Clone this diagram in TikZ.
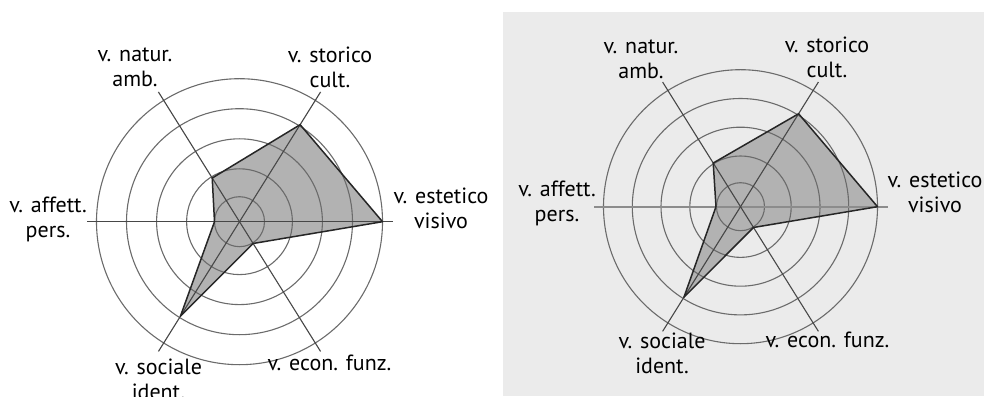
\documentclass[tikz,border=0pt]{standalone}
\usepackage{fontspec}
\setmainfont{PT Sans}

\begin{document}
\begin{tikzpicture}[x=0.5pt, y=0.5pt,
    ring/.style = {draw=black!58, line width=0.55pt},
    axis/.style = {draw=black!72, line width=0.55pt},
    areafill/.style = {fill=black!30},
    arealine/.style = {draw=black!85, line width=0.75pt, line join=round},
    lbl/.style = {align=center, inner sep=0pt, font=\fontsize{11}{12.5}\selectfont}]
    \useasboundingbox (0,0) rectangle (984,396);
    \fill[black!8] (503,0) rectangle (984,384);

    % left chart
    \coordinate (cl) at (239.5,174.3);
    \path[shift={(cl)}] (0:143) coordinate (pl1) (58:114.4) coordinate (pl2)
        (122:51.5) coordinate (pl3) (180:25) coordinate (pl4)
        (238:111.5) coordinate (pl5) (302:25.7) coordinate (pl6);
    \fill[areafill] (pl1) -- (pl2) -- (pl3) -- (pl4) -- (pl5) -- (pl6) -- cycle;
    \draw[ring] (cl) circle[radius=25];
    \draw[ring] (cl) circle[radius=52.9];
    \draw[ring] (cl) circle[radius=82.9];
    \draw[ring] (cl) circle[radius=113];
    \draw[ring] (cl) circle[radius=143];
    \draw[axis, shift={(cl)}] (0:153) -- (180:153);
    \draw[axis, shift={(cl)}] (58:153) -- (238:153);
    \draw[axis, shift={(cl)}] (122:153) -- (302:153);
    \draw[arealine] (pl1) -- (pl2) -- (pl3) -- (pl4) -- (pl5) -- (pl6) -- cycle;
    \node[lbl] (tl1) at (441,187.3) {v. estetico\\visivo};
    \node[lbl] (tl2) at (330,329) {v. storico\\cult.};
    \node[lbl] (tl3) at (135,328.5) {v. natur.\\amb.};
    \node[lbl] (tl4) at (48,176.5) {v. affett.\\pers.};
    \node[lbl] (tl5) at (158.5,16.5) {v. sociale\\ident.};
    \node[lbl] (tl6) at (329.5,33) {v. econ. funz.};

    % right chart
    \coordinate (cr) at (740.5,189.3);
    \path[shift={(cr)}] (0:137) coordinate (pr1) (58:109.6) coordinate (pr2)
        (122:51.5) coordinate (pr3) (180:24.5) coordinate (pr4)
        (238:106.8) coordinate (pr5) (302:24.5) coordinate (pr6);
    \fill[areafill] (pr1) -- (pr2) -- (pr3) -- (pr4) -- (pr5) -- (pr6) -- cycle;
    \draw[ring] (cr) circle[radius=24];
    \draw[ring] (cr) circle[radius=50.7];
    \draw[ring] (cr) circle[radius=79.5];
    \draw[ring] (cr) circle[radius=108.2];
    \draw[ring] (cr) circle[radius=137];
    \draw[axis, draw=black!45, line width=1pt, shift={(cr)}] (0:147) -- (180:147);
    \draw[axis, shift={(cr)}] (58:147) -- (238:147);
    \draw[axis, shift={(cr)}] (122:147) -- (302:147);
    \draw[arealine] (pr1) -- (pr2) -- (pr3) -- (pr4) -- (pr5) -- (pr6) -- cycle;
    \node[lbl] (tr1) at (935,204) {v. estetico\\visivo};
    \node[lbl] (tr2) at (827,339) {v. storico\\cult.};
    \node[lbl] (tr3) at (641,336.5) {v. natur.\\amb.};
    \node[lbl] (tr4) at (557,193) {v. affett.\\pers.};
    \node[lbl] (tr5) at (662,42.5) {v. sociale\\ident.};
    \node[lbl] (tr6) at (827.5,56) {v. econ. funz.};
\end{tikzpicture}
\end{document}
